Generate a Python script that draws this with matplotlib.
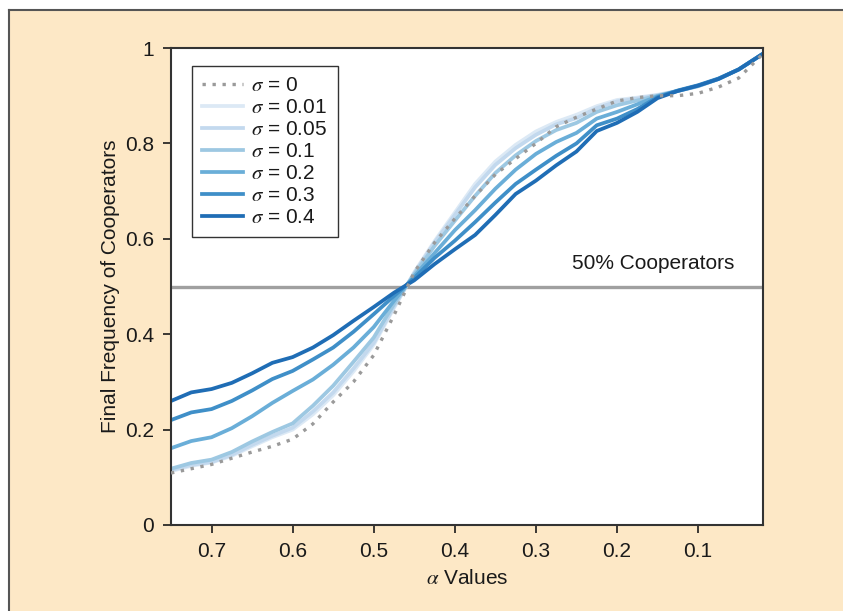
import matplotlib
matplotlib.use("Agg")
import matplotlib.pyplot as plt
from matplotlib.patches import Rectangle
from matplotlib.lines import Line2D

plt.rcParams['font.family'] = ['Liberation Sans', 'DejaVu Sans']
plt.rcParams['mathtext.fontset'] = 'stix'

# alpha values (x axis, drawn reversed)
alpha = [0.75, 0.725, 0.70, 0.675, 0.65, 0.625, 0.60, 0.575, 0.55, 0.525,
         0.50, 0.475, 0.45, 0.425, 0.40, 0.375, 0.35, 0.325, 0.30, 0.275,
         0.25, 0.225, 0.20, 0.175, 0.15, 0.125, 0.10, 0.075, 0.05, 0.02]

sigma_labels = ['0', '0.01', '0.05', '0.1', '0.2', '0.3', '0.4']

freq_s0 = [0.109, 0.118, 0.127, 0.140, 0.153, 0.165, 0.180, 0.212, 0.258, 0.300,
           0.356, 0.440, 0.530, 0.592, 0.642, 0.690, 0.735, 0.768, 0.800, 0.835,
           0.855, 0.872, 0.889, 0.896, 0.900, 0.900, 0.905, 0.918, 0.937, 0.988]
freq_s001 = [0.113, 0.124, 0.131, 0.145, 0.165, 0.184, 0.200, 0.232, 0.272, 0.322,
             0.378, 0.455, 0.530, 0.595, 0.655, 0.715, 0.762, 0.797, 0.825, 0.845,
             0.860, 0.878, 0.891, 0.896, 0.902, 0.910, 0.920, 0.935, 0.955, 0.988]
freq_s005 = [0.115, 0.126, 0.132, 0.147, 0.168, 0.187, 0.204, 0.238, 0.278, 0.328,
             0.382, 0.458, 0.528, 0.592, 0.650, 0.708, 0.755, 0.790, 0.818, 0.840,
             0.853, 0.874, 0.888, 0.894, 0.901, 0.910, 0.920, 0.935, 0.955, 0.988]
freq_s01 = [0.118, 0.130, 0.137, 0.153, 0.175, 0.195, 0.213, 0.250, 0.292, 0.342,
            0.393, 0.463, 0.526, 0.585, 0.638, 0.690, 0.738, 0.775, 0.805, 0.828,
            0.843, 0.866, 0.880, 0.890, 0.900, 0.910, 0.920, 0.935, 0.955, 0.988]
freq_s02 = [0.161, 0.176, 0.184, 0.203, 0.228, 0.256, 0.281, 0.305, 0.336, 0.372,
            0.415, 0.470, 0.522, 0.570, 0.618, 0.660, 0.705, 0.745, 0.778, 0.803,
            0.822, 0.852, 0.866, 0.882, 0.899, 0.910, 0.921, 0.935, 0.955, 0.988]
freq_s03 = [0.220, 0.236, 0.243, 0.260, 0.282, 0.306, 0.323, 0.347, 0.372, 0.405,
            0.442, 0.480, 0.518, 0.560, 0.596, 0.635, 0.676, 0.715, 0.745, 0.774,
            0.800, 0.838, 0.852, 0.872, 0.897, 0.911, 0.922, 0.936, 0.955, 0.988]
freq_s04 = [0.260, 0.278, 0.285, 0.298, 0.318, 0.340, 0.352, 0.372, 0.398, 0.428,
            0.457, 0.487, 0.513, 0.547, 0.578, 0.608, 0.650, 0.694, 0.722, 0.754,
            0.783, 0.826, 0.843, 0.866, 0.895, 0.910, 0.921, 0.935, 0.955, 0.988]

colors = ['#9a9a9a', '#dce9f5', '#c3d9ee', '#9dc8e2', '#6aaed8', '#3f8fc8', '#1f6db5']
series = [freq_s0, freq_s001, freq_s005, freq_s01, freq_s02, freq_s03, freq_s04]

fig = plt.figure(figsize=(8.43, 6.11), dpi=100)
fig.patch.set_facecolor('white')

# cream panel behind the chart, running off the right and bottom edges
px0 = 9 / 843
py1 = 1 - 10 / 611
panel = Rectangle((px0, 0), 1 - px0, py1, transform=fig.transFigure,
                  facecolor='#FDE8C6', edgecolor='none', zorder=-10)
fig.patches.append(panel)
fig.lines.append(Line2D([px0, px0], [0, py1], transform=fig.transFigure,
                        color='#555555', linewidth=1.5, zorder=-9))
fig.lines.append(Line2D([px0, 1], [py1, py1], transform=fig.transFigure,
                        color='#555555', linewidth=1.5, zorder=-9))

ax = fig.add_axes([171 / 843, 1 - 525 / 611, 592 / 843, 477 / 611])
ax.set_zorder(1)
ax.set_facecolor('white')

ax.axhline(0.5, color='#a0a0a0', linewidth=2.4, zorder=1)
ax.text(0.055, 0.528, '50% Cooperators', ha='right', va='bottom',
        fontsize=15, color='#1a1a1a')

for i, (vals, col, lab) in enumerate(zip(series, colors, sigma_labels)):
    if i == 0:
        ax.plot(alpha, vals, color=col, linewidth=2.4, linestyle=(0, (1, 2.0)),
                label=r'$\sigma$ = ' + lab, zorder=3)
    else:
        ax.plot(alpha, vals, color=col, linewidth=2.7,
                label=r'$\sigma$ = ' + lab, zorder=2)

ax.set_xlim(0.75, 0.02)
ax.set_ylim(0, 1)
ax.set_xticks([0.7, 0.6, 0.5, 0.4, 0.3, 0.2, 0.1])
ax.set_xticklabels(['0.7', '0.6', '0.5', '0.4', '0.3', '0.2', '0.1'])
ax.set_yticks([0, 0.2, 0.4, 0.6, 0.8, 1])
ax.set_yticklabels(['0', '0.2', '0.4', '0.6', '0.8', '1'])
ax.tick_params(direction='out', length=6, width=1.2, labelsize=15,
               colors='#1a1a1a', pad=6)

for side in ['left', 'bottom', 'top', 'right']:
    ax.spines[side].set_color('#333333')
    ax.spines[side].set_linewidth(1.5)

ax.set_xlabel(r'$\alpha$ Values', fontsize=15, color='#1a1a1a', labelpad=6)
ax.set_ylabel('Final Frequency of Cooperators', fontsize=15, color='#1a1a1a',
              labelpad=4)

leg = ax.legend(loc='upper left', bbox_to_anchor=(21 / 592, 1 - 18 / 477),
                borderaxespad=0, fontsize=15, handlelength=1.95,
                labelspacing=0.14, handletextpad=0.4, borderpad=0.5,
                fancybox=False, framealpha=1)
leg.get_frame().set_edgecolor('#333333')
leg.get_frame().set_linewidth(1.0)
for t in leg.get_texts():
    t.set_color('#1a1a1a')

fig.savefig('out.png', dpi=100, facecolor=fig.get_facecolor())
